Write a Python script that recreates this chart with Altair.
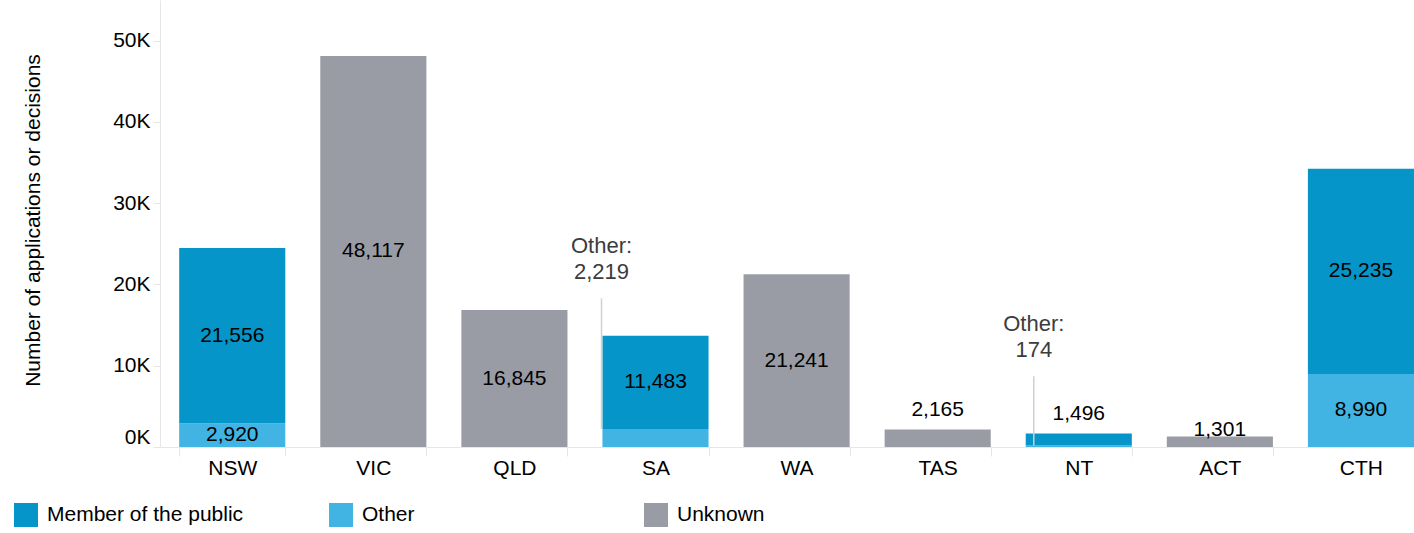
import altair as alt
import pandas as pd

# ---- data ----
states = ["NSW", "VIC", "QLD", "SA", "WA", "TAS", "NT", "ACT", "CTH"]
member = [21556, 0, 0, 11483, 0, 0, 1496, 0, 25235]
other = [2920, 0, 0, 2219, 0, 0, 174, 0, 8990]
unknown = [0, 48117, 16845, 0, 21241, 2165, 0, 1301, 0]

categories = ["Member of the public", "Other", "Unknown"]
colors = ["#0695c9", "#41b4e4", "#999ca4"]

# label placement for each segment
callout_states = ["SA", "NT"]          # "Other" shown as a callout
callout_top = [18300, 8700]            # top of callout leader (data units)
callout_dx = [-54, -45]                # leader x offset from band centre
above_states = ["TAS", "NT"]           # label sits above the bar
near_top_states = ["ACT"]

rows = []
for i, s in enumerate(states):
    base = 0
    for cat, vals, o in [("Other", other, 0), ("Member of the public", member, 1), ("Unknown", unknown, 2)]:
        v = vals[i]
        if v > 0:
            rows.append(dict(state=s, category=cat, value=v, ord=o,
                             y0=base, y1=base + v, mid=base + v / 2,
                             label=f"{v:,}"))
            base += v
df = pd.DataFrame(rows)


def place(r):
    if r["state"] in callout_states and r["category"] == "Other":
        return "callout"
    if r["state"] in above_states:
        return "above"
    if r["state"] in near_top_states:
        return "neartop"
    return "inside"


df["place"] = df.apply(place, axis=1)

call_df = pd.DataFrame({
    "state": callout_states,
    "top": callout_top,
    "bottom": [other[states.index(s)] for s in callout_states],
    "text": ["Other:\n" + f"{other[states.index(s)]:,}" for s in callout_states],
})

FONT = "Liberation Sans"

x_enc = alt.X(
    "state:N", sort=states,
    scale=alt.Scale(paddingInner=0.248, paddingOuter=0.068, align=1),
    axis=alt.Axis(title=None, labelAngle=0, labelFontSize=21, labelColor="black",
                  tickBand="extent", tickSize=9, tickColor="#e6e6e6",
                  domainColor="#e6e6e6", labelPadding=1, grid=False),
)
y_scale = alt.Scale(domain=[0, 55000], nice=False)

base = alt.Chart(df)

bars = base.mark_bar().encode(
    x=x_enc,
    y=alt.Y("y0:Q", scale=y_scale,
            axis=alt.Axis(
                title="Number of applications or decisions",
                values=[0, 10000, 20000, 30000, 40000, 50000],
                labelExpr="datum.value / 1000 + 'K'",
                labelBaseline={"condition": {"test": "datum.value === 0", "value": "bottom"},
                               "value": "middle"},
                labelFontSize=21, labelColor="black", labelPadding=3,
                tickSize=7, tickColor="#e6e6e6", domainColor="#e6e6e6", grid=False,
                titleFontSize=21, titleFontWeight="normal", titleColor="black",
                titleAngle=270, titleX=-127, titleY=220, titleAlign="center",
                titleBaseline="middle")),
    y2="y1:Q",
    color=alt.Color("category:N",
                    scale=alt.Scale(domain=categories, range=colors),
                    legend=alt.Legend(title=None, orient="none", legendX=-146, legendY=503,
                                      direction="horizontal", columns=3, gridAlign="all",
                                      columnPadding=85, symbolType="square", symbolSize=576,
                                      symbolStrokeWidth=0, symbolOpacity=1,
                                      labelFontSize=21, labelColor="black", labelOffset=9,
                                      padding=0, labelLimit=400)),
)

inside = base.transform_filter("datum.place == 'inside'").mark_text(
    fontSize=21, color="black", baseline="middle").encode(
    x=alt.X("state:N", sort=states), y=alt.Y("mid:Q", scale=y_scale), text="label:N")

above = base.transform_filter("datum.place == 'above'").mark_text(
    fontSize=21, color="black", baseline="middle", dy=-19).encode(
    x=alt.X("state:N", sort=states), y=alt.Y("y1:Q", scale=y_scale), text="label:N")

neartop = base.transform_filter("datum.place == 'neartop'").mark_text(
    fontSize=21, color="black", baseline="middle", dy=-6).encode(
    x=alt.X("state:N", sort=states), y=alt.Y("y1:Q", scale=y_scale), text="label:N")

layers = [bars, inside, above, neartop]
for s, dx in zip(callout_states, callout_dx):
    cd = alt.Chart(call_df).transform_filter(f"datum.state == '{s}'")
    layers.append(cd.mark_rule(color="#d0d0d0", strokeWidth=1.5, xOffset=dx).encode(
        x=alt.X("state:N", sort=states), y=alt.Y("top:Q", scale=y_scale), y2="bottom:Q"))
    layers.append(cd.mark_text(fontSize=22, color="#3c3c3c", baseline="middle",
                               lineBreak="\n", lineHeight=26, dy=-52, xOffset=dx).encode(
        x=alt.X("state:N", sort=states), y=alt.Y("top:Q", scale=y_scale), text="text:N"))

chart = alt.layer(*layers).properties(
    width=1254, height=447,
    autosize=alt.AutoSizeParams(type="none"),
    padding={"left": 160, "top": 0, "right": 0, "bottom": 86},
    background="white",
).configure(font=FONT).configure_view(stroke=None)

chart.save("out.html", embed_options={"renderer": "svg", "actions": False})
